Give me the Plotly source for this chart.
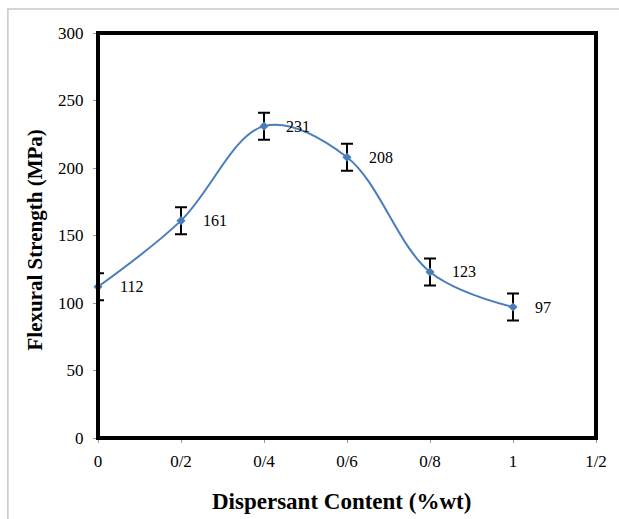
import plotly.graph_objects as go

x_vals = [0, 0.2, 0.4, 0.6, 0.8, 1.0]
strength = [112, 161, 231, 208, 123, 97]
err = [10, 10, 10, 10, 10, 10]
labels = ["112", "161", "231", "208", "123", "97"]
x_tickvals = [0, 0.2, 0.4, 0.6, 0.8, 1.0, 1.2]
x_ticktext = ["0", "0/2", "0/4", "0/6", "0/8", "1", "1/2"]
y_tickvals = [0, 50, 100, 150, 200, 250, 300]
x_title = "Dispersant Content (%wt)"
y_title = "Flexural Strength (MPa)"

serif = "Liberation Serif"
blue = "#4a7ebb"

fig = go.Figure()
fig.add_trace(go.Scatter(
    x=x_vals, y=strength, mode="lines+markers",
    line=dict(color=blue, width=2, shape="spline", smoothing=1.0),
    marker=dict(color=blue, size=7, symbol="diamond"),
    error_y=dict(type="data", array=err, color="black", thickness=2, width=6),
    showlegend=False, cliponaxis=False,
))

for xv, yv, t in zip(x_vals, strength, labels):
    fig.add_annotation(x=xv, y=yv, text=t, showarrow=False, xanchor="left",
                       yanchor="middle", xshift=20, font=dict(family=serif, size=16, color="black"))

fig.add_annotation(xref="paper", yref="paper", x=0.488, y=-0.1556, text="<b>" + x_title + "</b>",
                   showarrow=False, xanchor="center", yanchor="middle",
                   font=dict(family=serif, size=23, color="black"))
fig.add_annotation(xref="paper", yref="paper", x=-0.1275, y=0.489, text="<b>" + y_title + "</b>",
                   showarrow=False, xanchor="center", yanchor="middle", textangle=-90,
                   font=dict(family=serif, size=21, color="black"))

fig.update_layout(
    width=619, height=519,
    margin=dict(l=98, r=19, t=33, b=81),
    paper_bgcolor="white", plot_bgcolor="white",
    font=dict(family=serif, color="black"),
    xaxis=dict(range=[0, 1.2], tickvals=x_tickvals, ticktext=x_ticktext,
               showgrid=False, zeroline=False, showline=True, linecolor="#888888", linewidth=1,
               ticks="outside", ticklen=4, tickcolor="#999999", ticklabelstandoff=4,
               tickfont=dict(family=serif, size=17, color="black")),
    yaxis=dict(range=[0, 300], tickvals=y_tickvals,
               showgrid=False, zeroline=False, showline=True, linecolor="#888888", linewidth=1,
               ticks="outside", ticklen=4, tickcolor="#999999", ticklabelstandoff=6,
               tickfont=dict(family=serif, size=17, color="black")),
    shapes=[
        dict(type="rect", xref="paper", yref="paper", x0=0, x1=1, y0=0, y1=1,
             line=dict(color="black", width=4), layer="above"),
        dict(type="rect", xref="paper", yref="paper", x0=-0.181, x1=1.2, y0=-0.3, y1=1.059,
             line=dict(color="#c8c8c8", width=1.5), layer="below"),
    ],
)

fig.write_html("out.html", config={"displayModeBar": False},
               post_script="document.body.style.margin='0px';")
